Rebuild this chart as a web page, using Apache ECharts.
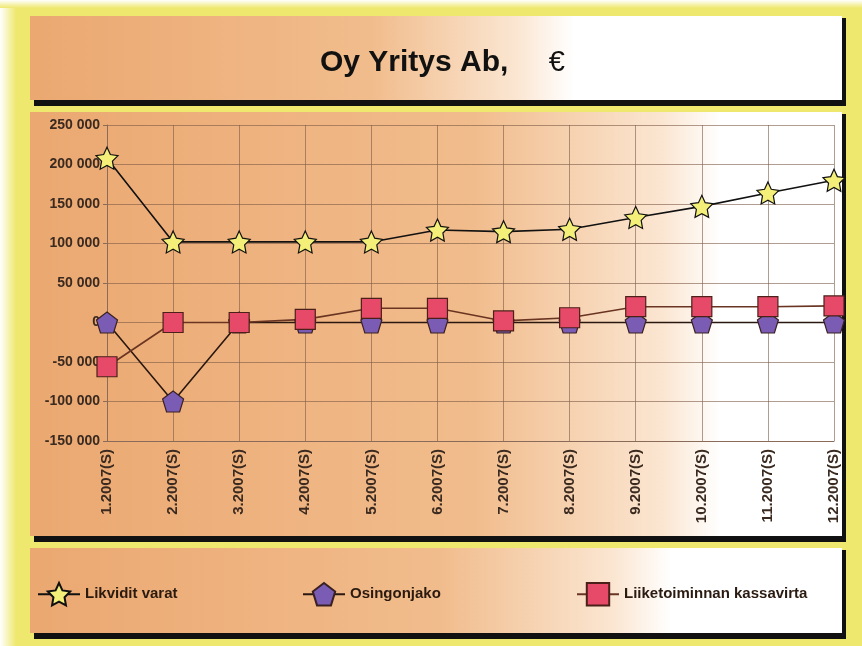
<!DOCTYPE html>
<html><head><meta charset="utf-8">
<script src="https://cdn.jsdelivr.net/npm/echarts@6/dist/echarts.min.js"></script>
<style>html,body{margin:0;padding:0;background:#eee86e;}#c{width:862px;height:646px;}</style>
</head><body><div id="c"></div>
<script>
const categories = ['1.2007(S)','2.2007(S)','3.2007(S)','4.2007(S)','5.2007(S)','6.2007(S)','7.2007(S)','8.2007(S)','9.2007(S)','10.2007(S)','11.2007(S)','12.2007(S)'];
const likviditVarat = [208000,102000,102000,102000,102000,117000,115000,118000,133000,147000,164000,180000];
const osingonjako = [0,-100000,0,0,0,0,0,0,0,0,0,0];
const kassavirta = [-56000,0,0,4000,18000,18000,2000,6000,20000,20000,20000,21000];
const seriesNames = ['Likvidit varat','Osingonjako','Liiketoiminnan kassavirta'];
const titleText = 'Oy Yritys Ab,';

const starPath = 'path://M0,-10 L2.9,-4 L9.5,-3.1 L4.7,1.5 L5.9,8.1 L0,5 L-5.9,8.1 L-4.7,1.5 L-9.5,-3.1 L-2.9,-4 Z';
const pentPath = 'path://M0,-10 L9.5,-3.1 L5.9,8.1 L-5.9,8.1 L-9.5,-3.1 Z';

function panelGrad(stop){
  return new echarts.graphic.LinearGradient(0,0,1,0,[
    {offset:0,color:'#eba871'},
    {offset:stop*0.7,color:'#f1bc8c'},
    {offset:stop,color:'#fbe6d2'},
    {offset:Math.min(1,stop+0.07),color:'#ffffff'},
    {offset:1,color:'#ffffff'}]);
}
function panel(x,y,w,h,stop){
  return [
    {type:'rect',z:-100,shape:{x:x+4,y:y+2,width:w,height:h+4},style:{fill:'#111111'}},
    {type:'rect',z:-99,shape:{x:x,y:y,width:w,height:h},style:{fill:panelGrad(stop)}}
  ];
}
const fmt = v => {
  const s = Math.abs(v).toString().replace(/\B(?=(\d{3})+(?!\d))/g,' ');
  return (v<0?'-':'')+s;
};
const legendText = {fontFamily:'Liberation Sans',fontWeight:'bold',fontSize:15,color:'#2a1a10'};
const chart = echarts.init(document.getElementById('c'));
chart.setOption({
  backgroundColor:'#eee86e',
  animation:false,
  graphic:[
    {type:'rect',z:-101,shape:{x:0,y:0,width:16,height:646},style:{fill:new echarts.graphic.LinearGradient(0,0,1,0,[{offset:0,color:'#ffffff'},{offset:1,color:'#eee86e'}])}},
    {type:'rect',z:-101,shape:{x:0,y:0,width:862,height:8},style:{fill:new echarts.graphic.LinearGradient(0,0,0,1,[{offset:0,color:'#ffffff'},{offset:1,color:'#eee86e'}])}},
    ...panel(30,16,812,84,0.6),
    ...panel(30,112,812,424,0.78),
    ...panel(30,548,812,85,0.72),
    {type:'text',z:10,left:320,top:48,style:{
      text:'{a|'+titleText+'}{b|     €}',
      rich:{a:{fontFamily:'Liberation Sans',fontWeight:'bold',fontSize:30,fill:'#111'},
            b:{fontFamily:'Liberation Sans',fontSize:29,fill:'#111'}}}}
  ],
  grid:{left:107,right:28,top:125,bottom:205},
  legend:[
    {data:[seriesNames[0]],left:32,top:577,itemWidth:42,itemHeight:28,itemGap:4,textStyle:legendText},
    {data:[seriesNames[1]],left:297,top:577,itemWidth:42,itemHeight:28,textStyle:legendText},
    {data:[seriesNames[2]],left:571,top:577,itemWidth:42,itemHeight:28,textStyle:legendText}
  ],
  xAxis:{type:'category',data:categories,boundaryGap:false,
    axisLine:{onZero:false,lineStyle:{color:'#8a6a58'}},
    axisTick:{show:false},
    splitLine:{show:true,lineStyle:{color:'rgba(125,90,70,0.6)',width:1}},
    axisLabel:{rotate:90,margin:8,fontFamily:'Liberation Sans',fontWeight:'bold',fontSize:15,color:'#3a2a20',interval:0}},
  yAxis:{type:'value',min:-150000,max:250000,interval:50000,
    axisLine:{show:true,lineStyle:{color:'#8a6a58'}},
    axisTick:{show:true,length:4,lineStyle:{color:'#8a6a58'}},
    splitLine:{show:true,lineStyle:{color:'rgba(125,90,70,0.6)',width:1}},
    axisLabel:{formatter:fmt,margin:7,fontFamily:'Liberation Sans',fontWeight:'bold',fontSize:14,color:'#3a2a20'}},
  series:[
    {name:seriesNames[0],type:'line',data:likviditVarat,symbol:starPath,symbolSize:22,
      lineStyle:{color:'#111',width:1.6},itemStyle:{color:'#f4ef78',borderColor:'#111',borderWidth:1.2}},
    {name:seriesNames[1],type:'line',data:osingonjako,symbol:pentPath,symbolSize:21,
      lineStyle:{color:'#2a1810',width:1.6},itemStyle:{color:'#7a5cb4',borderColor:'#3a2020',borderWidth:1.2}},
    {name:seriesNames[2],type:'line',data:kassavirta,symbol:'rect',symbolSize:20,
      lineStyle:{color:'#6a3422',width:1.6},itemStyle:{color:'#e74a68',borderColor:'#4a2018',borderWidth:1.2}}
  ]
});
</script></body></html>
